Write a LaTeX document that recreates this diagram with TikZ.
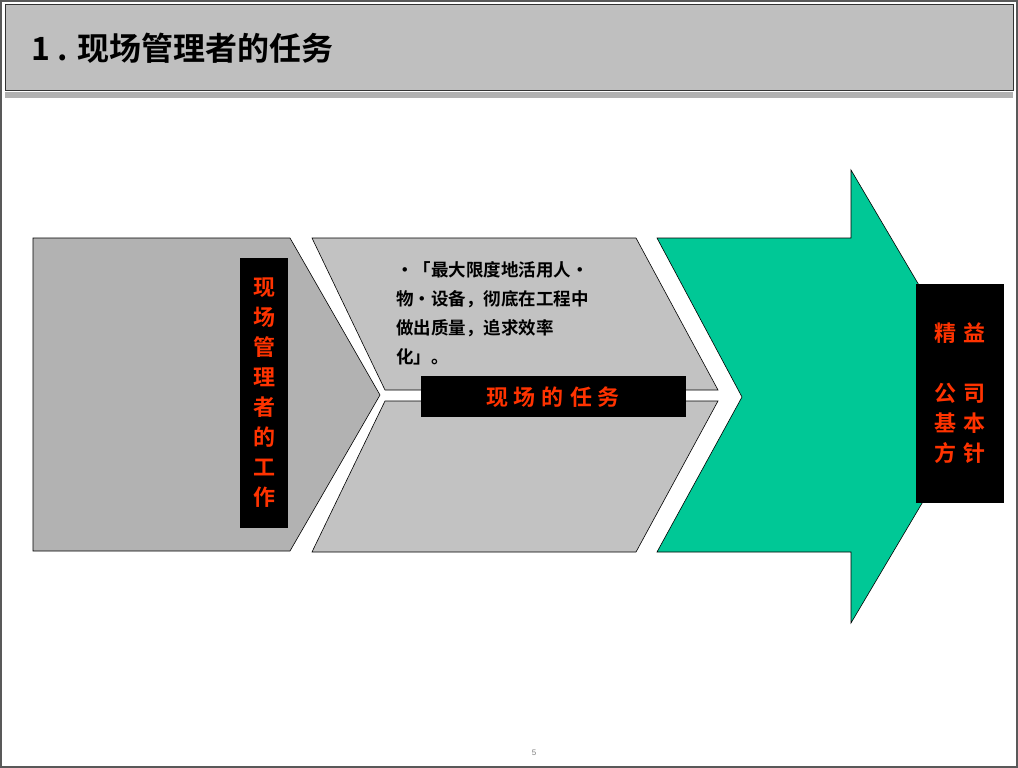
\documentclass[tikz,border=0pt]{standalone}
\usepackage{fontspec}
\setmainfont{Liberation Sans}
\newfontfamily\cjk{Noto Sans CJK SC}[BoldFont={Noto Sans CJK SC Bold}]
\definecolor{grn}{HTML}{00C896}
\definecolor{redt}{HTML}{FF3300}
\tikzset{blk/.style={fill=black,draw=none},
 redtxt/.style={text=redt,font=\cjk\bfseries\fontsize{22}{26}\selectfont,inner sep=0pt},
 shp/.style={draw=black,line width=0.6pt}}
\begin{document}
\begin{tikzpicture}[x=1pt,y=-1pt]
\useasboundingbox (0,0) rectangle (1018,768);
\fill[white] (0,0) rectangle (1018,768);
\draw[gray!70!black,line width=2pt] (1,1) rectangle (1017,767);
\fill[gray!60] (5,92) rectangle (1013,98);
\draw[fill=gray!50,draw=black!80,line width=1pt] (5,5) rectangle (1013,91);
\node[anchor=west,font=\cjk\bfseries\fontsize{32}{36}\selectfont] (title) at (28,48) {1 . 现场管理者的任务};
% shapes
\draw[shp,fill=black!30] (33,238) -- (290,238) -- (380,395) -- (290,551) -- (33,551) -- cycle;
\draw[shp,fill=black!24] (312,238) -- (636,238) -- (718,390) -- (385,390) -- cycle;
\draw[shp,fill=black!24] (385,401) -- (718,401) -- (636,552) -- (312,552) -- cycle;
\draw[shp,fill=grn] (657,238) -- (851,238) -- (851,170) -- (985,397) -- (851,623) -- (851,552) -- (657,552) -- (742,397) -- cycle;
% left label
\fill[blk] (240,258) rectangle (288,528);
\node[redtxt,align=center] (lbl1) at (264,393) {现\\[4pt]场\\[4pt]管\\[4pt]理\\[4pt]者\\[4pt]的\\[4pt]工\\[4pt]作};
% middle text
\node[anchor=north west,align=left,inner sep=0pt,font=\cjk\bfseries\fontsize{17.5}{29}\selectfont] (txt) at (396,261)
 {•「最大限度地活用人·\\物·设备，彻底在工程中\\做出质量，追求效率\\化」。};
\fill[blk] (421,376) rectangle (686,417);
\node[redtxt] (lbl2) at (553,397) {现\hspace{6pt}场\hspace{6pt}的\hspace{6pt}任\hspace{6pt}务};
% right label
\fill[blk] (916,284) rectangle (1004,503);
\node[redtxt,align=center] (lbl3) at (960,393) {精\hspace{8pt}益\\[34pt]公\hspace{8pt}司\\[4pt]基\hspace{8pt}本\\[4pt]方\hspace{8pt}针};
\node[text=gray,font=\fontsize{8}{10}\selectfont] (pg) at (534,753) {5};
\end{tikzpicture}
\end{document}
